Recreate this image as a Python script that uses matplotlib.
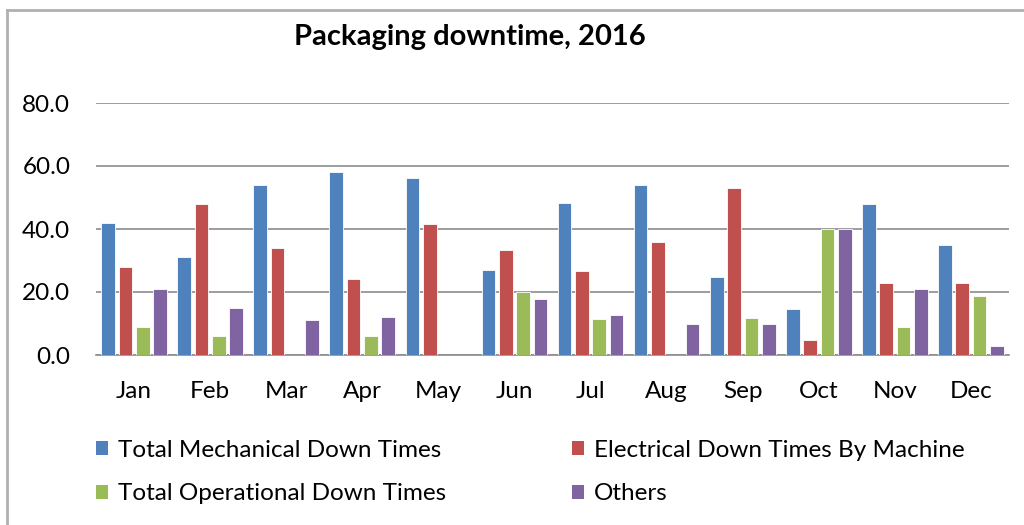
import matplotlib
matplotlib.use("Agg")
from matplotlib import pyplot as plt
from matplotlib.patches import Patch
from matplotlib.lines import Line2D
import numpy as np

plt.rcParams['font.family'] = ['Lato', 'DejaVu Sans']

# 月份与四类停机时间
months = ['Jan', 'Feb', 'Mar', 'Apr', 'May', 'Jun', 'Jul', 'Aug', 'Sep', 'Oct', 'Nov', 'Dec']
mechanical = [42, 31, 54, 58, 56.2, 27.1, 48.4, 54, 24.8, 14.7, 47.8, 34.8]
electrical = [28, 48, 34, 24, 41.7, 33.2, 26.7, 35.8, 52.9, 4.9, 22.8, 22.8]
operational = [9, 6, 0, 6, 0, 20.1, 11.5, 0, 11.8, 39.9, 8.8, 18.8]
others = [21, 15, 11, 12, 0, 17.8, 12.8, 9.8, 9.8, 39.9, 20.8, 2.8]

series_names = ['Total Mechanical Down Times', 'Electrical Down Times By Machine',
                'Total Operational Down Times', 'Others']
colors = ['#4F81BD', '#C0504D', '#9BBB59', '#8064A2']

fig = plt.figure(figsize=(10.24, 5.25), dpi=100)
ax = fig.add_axes([96 / 1024, 1 - 355 / 525, (1009 - 96) / 1024, (355 - 103) / 525])

x = np.arange(len(months))
step = 0.228
width = 0.18
for i, (vals, c) in enumerate(zip([mechanical, electrical, operational, others], colors)):
    ax.bar(x + (i - 1.5) * step, vals, width=width, color=c, edgecolor='white',
           linewidth=0.6, zorder=3)

ax.set_xlim(-0.5, len(months) - 0.5)
ax.set_ylim(0, 80)
ax.set_yticks([0, 20, 40, 60, 80])
ax.set_yticklabels(['%.1f' % v for v in [0, 20, 40, 60, 80]])
ax.set_xticks(x)
ax.set_xticklabels(months)
ax.tick_params(axis='y', length=0, pad=18.5, labelsize=17.5)
ax.tick_params(axis='x', length=0, pad=19, labelsize=17.5)
ax.grid(axis='y', color='#8c8c8c', linewidth=1.2, zorder=0)
for side in ['top', 'right', 'left']:
    ax.spines[side].set_visible(False)
ax.spines['bottom'].set_color('#8c8c8c')
ax.spines['bottom'].set_linewidth(1.2)

fig.text(470 / 1024, 1 - 37 / 525, 'Packaging downtime, 2016', ha='center', va='center',
         fontsize=21, fontweight='bold')

# 图例：两行两列
order = [0, 2, 1, 3]
handles = [Patch(facecolor=colors[i], edgecolor='none') for i in order]
labels = [series_names[i] for i in order]
fig.legend(handles, labels, ncol=2, loc='upper left', bbox_to_anchor=(74 / 1024, 1 - 418 / 525),
           frameon=False, fontsize=17.5, handlelength=0.5, handleheight=0.5,
           handletextpad=0.4, columnspacing=5.2, labelspacing=0.93)

# 外框（只露出上边和左边）
fig.add_artist(Line2D([6.5 / 1024, 6.5 / 1024], [0, 1 - 10 / 525], color='#b0b0b0', linewidth=2))
fig.add_artist(Line2D([6.5 / 1024, 1], [1 - 10 / 525, 1 - 10 / 525], color='#b0b0b0', linewidth=2))

fig.savefig('out.png', dpi=100)
